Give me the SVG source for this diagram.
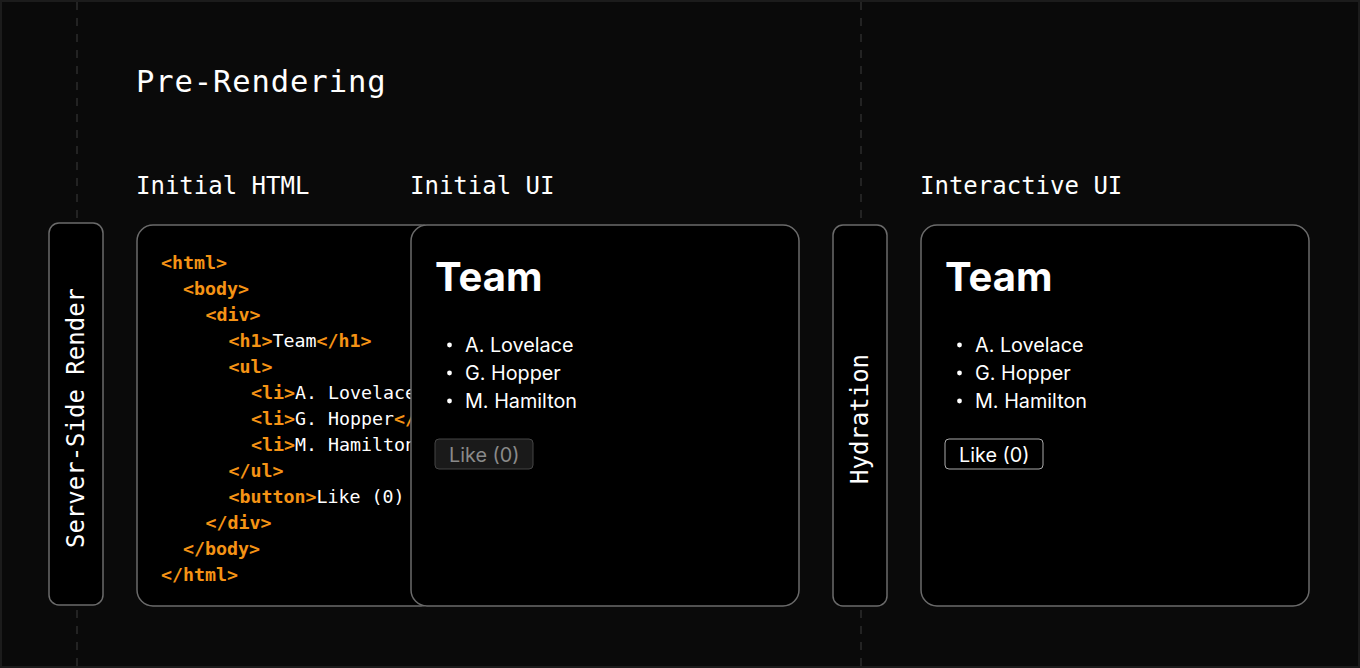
<svg xmlns="http://www.w3.org/2000/svg" width="1360" height="668" viewBox="0 0 1360 668">
<style>
.mono{font-family:"DejaVu Sans Mono","Liberation Mono",monospace;fill:#fff}
.sans{font-family:Inter,"Noto Sans",sans-serif;fill:#fff}
.box{fill:#000;stroke:#6b6b6b;stroke-width:1.5}
.code{font-family:"DejaVu Sans Mono","Liberation Mono",monospace;font-size:18.3px;fill:#fff}
.tag{fill:#f59315;font-weight:bold}
.dash{stroke:#232323;stroke-width:2;stroke-dasharray:8 8}
</style>
<defs>
<clipPath id="clipHtml"><rect x="137" y="225" width="274" height="381"/></clipPath>
</defs>
<rect x="1" y="1" width="1358" height="666" fill="#0a0a0a" stroke="#1c1c1c" stroke-width="2"/>
<g id="connectors">
<line class="dash" x1="77" y1="2" x2="77" y2="666"/>
<line class="dash" x1="861" y1="2" x2="861" y2="666"/>
</g>
<g id="title"><text class="mono" x="136" y="92" font-size="30.5" letter-spacing="0.9">Pre-Rendering</text></g>
<g id="labels">
<text class="mono" x="136" y="194" font-size="24">Initial HTML</text>
<text class="mono" x="410" y="194" font-size="24">Initial UI</text>
<text class="mono" x="920" y="194" font-size="24">Interactive UI</text>
</g>
<g id="ssr">
<rect class="box" x="49" y="223" width="54" height="382" rx="10"/>
<text class="mono" font-size="24" text-anchor="middle" transform="translate(84,418) rotate(-90)">Server-Side Render</text>
</g>
<g id="initial-html">
<rect class="box" x="137" y="225" width="300" height="381" rx="16"/>
<g clip-path="url(#clipHtml)" class="code">
<text x="161" y="269"><tspan class="tag">&lt;html&gt;</tspan></text>
<text x="183" y="295"><tspan class="tag">&lt;body&gt;</tspan></text>
<text x="205.5" y="321"><tspan class="tag">&lt;div&gt;</tspan></text>
<text x="228.5" y="347"><tspan class="tag">&lt;h1&gt;</tspan>Team<tspan class="tag">&lt;/h1&gt;</tspan></text>
<text x="228.5" y="373"><tspan class="tag">&lt;ul&gt;</tspan></text>
<text x="251" y="399"><tspan class="tag">&lt;li&gt;</tspan>A. Lovelace</text>
<text x="251" y="425"><tspan class="tag">&lt;li&gt;</tspan>G. Hopper<tspan class="tag">&lt;/</tspan></text>
<text x="251" y="451"><tspan class="tag">&lt;li&gt;</tspan>M. Hamilton</text>
<text x="228.5" y="477"><tspan class="tag">&lt;/ul&gt;</tspan></text>
<text x="228.5" y="503"><tspan class="tag">&lt;button&gt;</tspan>Like (0)</text>
<text x="205.5" y="529"><tspan class="tag">&lt;/div&gt;</tspan></text>
<text x="183" y="555"><tspan class="tag">&lt;/body&gt;</tspan></text>
<text x="161" y="581"><tspan class="tag">&lt;/html&gt;</tspan></text>
</g>
</g>
<g id="initial-ui">
<rect class="box" x="411" y="225" width="388" height="381" rx="16"/>
<text class="sans" x="435" y="291" font-size="40" font-weight="700">Team</text>
<g class="sans" font-size="19.8">
<circle cx="449.5" cy="345" r="2.4" fill="#fff"/>
<circle cx="449.5" cy="373" r="2.4" fill="#fff"/>
<circle cx="449.5" cy="401" r="2.4" fill="#fff"/>
<text x="465" y="352">A. Lovelace</text>
<text x="465" y="380">G. Hopper</text>
<text x="465" y="408">M. Hamilton</text>
</g>
<rect x="435" y="439" width="98" height="30" rx="4" fill="#1a1a1a" stroke="#444" stroke-width="1"/>
<text class="sans" x="449" y="462" font-size="19.8" style="fill:#8a8a8a">Like (0)</text>
</g>
<g id="hydration">
<rect class="box" x="833" y="225" width="54" height="381" rx="10"/>
<text class="mono" font-size="24" text-anchor="middle" transform="translate(868,419) rotate(-90)">Hydration</text>
</g>
<g id="interactive-ui">
<rect class="box" x="921" y="225" width="388" height="381" rx="16"/>
<text class="sans" x="945" y="291" font-size="40" font-weight="700">Team</text>
<g class="sans" font-size="19.8">
<circle cx="959.5" cy="345" r="2.4" fill="#fff"/>
<circle cx="959.5" cy="373" r="2.4" fill="#fff"/>
<circle cx="959.5" cy="401" r="2.4" fill="#fff"/>
<text x="975" y="352">A. Lovelace</text>
<text x="975" y="380">G. Hopper</text>
<text x="975" y="408">M. Hamilton</text>
</g>
<rect x="945" y="439" width="98" height="30" rx="4" fill="#000" stroke="#aaa" stroke-width="1"/>
<text class="sans" x="959" y="462" font-size="19.8">Like (0)</text>
</g>
</svg>
